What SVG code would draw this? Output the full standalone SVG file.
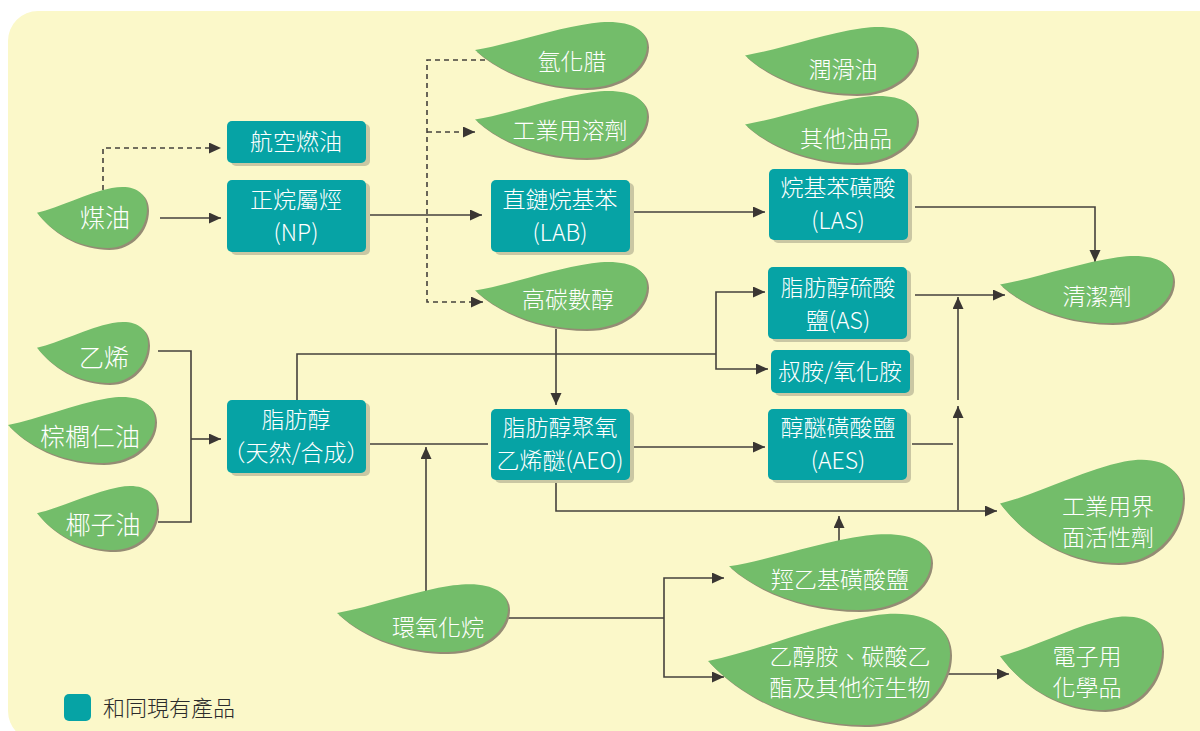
<svg xmlns="http://www.w3.org/2000/svg" xmlns:xlink="http://www.w3.org/1999/xlink" width="1200" height="731" viewBox="0 0 1200 731">
<style>
.bx{fill:#06a3a5}
.bs{fill:#cac7a3}
.lf{fill:#73bd6a}
.ls{fill:#948c74}
.t{font-family:"Noto Sans CJK TC","Noto Sans CJK SC",sans-serif;font-weight:300;fill:#ffffff;text-anchor:middle;font-size:23px}
.tl{font-size:25px}
.c{fill:none;stroke:#45413c;stroke-width:1.6}
.d{fill:none;stroke:#45413c;stroke-width:1.6;stroke-dasharray:5 4}
.lg{font-family:"Noto Sans CJK TC","Noto Sans CJK SC",sans-serif;font-weight:300;fill:#2b2b2b;font-size:22px}
</style>
<defs>
<path id="leaf" d="M0,26 C20,21 45,7 68,2 C88,-2 100,6 100,22 C100,42 85,60 64,60 C40,60 16,48 0,26 Z"/>
<marker id="ar" markerUnits="userSpaceOnUse" markerWidth="13" markerHeight="12" refX="12" refY="5.5" orient="auto" viewBox="0 0 13 12">
<path d="M0,0 L12,5.5 L0,11 Z" fill="#3a3633"/>
</marker>
</defs>
<rect x="8" y="11" width="1220" height="730" rx="30" fill="#fbf8c9"/>

<g id="connectors">
<path class="d" d="M103,190 V148 H221" marker-end="url(#ar)"/>
<path class="d" d="M485,60 H427 V302 H483" marker-end="url(#ar)"/>
<path class="d" d="M427,132 H475" marker-end="url(#ar)"/>
<path class="c" d="M160,218 H221" marker-end="url(#ar)"/>
<path class="c" d="M366,215 H482" marker-end="url(#ar)"/>
<path class="c" d="M632,212 H765" marker-end="url(#ar)"/>
<path class="c" d="M915,207 H1095 V262" marker-end="url(#ar)"/>
<path class="c" d="M915,295 H1005" marker-end="url(#ar)"/>
<path class="c" d="M958,510 V406" marker-end="url(#ar)"/>
<path class="c" d="M958,400 V297" marker-end="url(#ar)"/>
<path class="c" d="M912,444 H953"/>
<path class="c" d="M556,480 V511 H997" marker-end="url(#ar)"/>
<path class="c" d="M556,329 V405" marker-end="url(#ar)"/>
<path class="c" d="M297,400 V354 H716"/>
<path class="c" d="M716,330 V292 H765" marker-end="url(#ar)"/>
<path class="c" d="M716,330 V369 H768" marker-end="url(#ar)"/>
<path class="c" d="M158,351 H191 V522 H158"/>
<path class="c" d="M191,439 H221" marker-end="url(#ar)"/>
<path class="c" d="M368,444 H488"/>
<path class="c" d="M426,593 V447" marker-end="url(#ar)"/>
<path class="c" d="M633,447 H765" marker-end="url(#ar)"/>
<path class="c" d="M508,618 H664"/>
<path class="c" d="M664,618 V578 H724" marker-end="url(#ar)"/>
<path class="c" d="M664,618 V677 H724" marker-end="url(#ar)"/>
<path class="c" d="M839,542 V516" marker-end="url(#ar)"/>
<path class="c" d="M942,674 H1009" marker-end="url(#ar)"/>
</g>

<g id="n-jet">
<rect class="bs" x="231" y="124" width="139" height="42" rx="5"/>
<rect class="bx" x="227" y="121" width="139" height="42" rx="5"/>
<text class="t" x="296" y="150">航空燃油</text>
</g>
<g id="n-np">
<rect class="bs" x="231" y="183" width="139" height="72" rx="5"/>
<rect class="bx" x="227" y="180" width="139" height="72" rx="5"/>
<text class="t" x="296" y="208">正烷屬烴</text>
<text class="t" x="296" y="241">(NP)</text>
</g>
<g id="n-lab">
<rect class="bs" x="495" y="183" width="139" height="72" rx="5"/>
<rect class="bx" x="491" y="180" width="139" height="72" rx="5"/>
<text class="t" x="560" y="208">直鏈烷基苯</text>
<text class="t" x="560" y="241">(LAB)</text>
</g>
<g id="n-las">
<rect class="bs" x="773" y="172" width="139" height="71" rx="5"/>
<rect class="bx" x="769" y="169" width="139" height="71" rx="5"/>
<text class="t" x="838" y="196">烷基苯磺酸</text>
<text class="t" x="838" y="229">(LAS)</text>
</g>
<g id="n-as">
<rect class="bs" x="772" y="270" width="139" height="72" rx="5"/>
<rect class="bx" x="768" y="267" width="139" height="72" rx="5"/>
<text class="t" x="838" y="296">脂肪醇硫酸</text>
<text class="t" x="838" y="329">鹽(AS)</text>
</g>
<g id="n-amine">
<rect class="bs" x="775" y="353" width="139" height="43" rx="5"/>
<rect class="bx" x="771" y="350" width="139" height="43" rx="5"/>
<text class="t" x="840" y="380">叔胺/氧化胺</text>
</g>
<g id="n-aes">
<rect class="bs" x="772" y="412" width="139" height="71" rx="5"/>
<rect class="bx" x="768" y="409" width="139" height="71" rx="5"/>
<text class="t" x="838" y="436">醇醚磺酸鹽</text>
<text class="t" x="838" y="469">(AES)</text>
</g>
<g id="n-aeo">
<rect class="bs" x="495" y="412" width="139" height="71" rx="5"/>
<rect class="bx" x="491" y="409" width="139" height="71" rx="5"/>
<text class="t" x="560" y="436">脂肪醇聚氧</text>
<text class="t" x="560" y="469">乙烯醚(AEO)</text>
</g>
<g id="n-fa">
<rect class="bs" x="231" y="403" width="139" height="73" rx="5"/>
<rect class="bx" x="227" y="400" width="139" height="73" rx="5"/>
<text class="t" x="296" y="428">脂肪醇</text>
<text class="t" x="296" y="461">（天然/合成）</text>
</g>

<g id="l-kerosene">
<use href="#leaf" class="ls" transform="translate(39,188) scale(1.10,1.033)"/>
<use href="#leaf" class="lf" transform="translate(37,186) scale(1.10,1.033)"/>
<text class="t tl" x="105" y="227">煤油</text>
</g>
<g id="l-wax">
<use href="#leaf" class="ls" transform="translate(477,23) scale(1.72,1.117)"/>
<use href="#leaf" class="lf" transform="translate(475,21) scale(1.72,1.117)"/>
<text class="t" x="572" y="70">氫化腊</text>
</g>
<g id="l-solvent">
<use href="#leaf" class="ls" transform="translate(477,92) scale(1.72,1.133)"/>
<use href="#leaf" class="lf" transform="translate(475,90) scale(1.72,1.133)"/>
<text class="t" x="570" y="139">工業用溶劑</text>
</g>
<g id="l-lube">
<use href="#leaf" class="ls" transform="translate(747,28) scale(1.72,1.133)"/>
<use href="#leaf" class="lf" transform="translate(745,26) scale(1.72,1.133)"/>
<text class="t" x="843" y="78">潤滑油</text>
</g>
<g id="l-otheroil">
<use href="#leaf" class="ls" transform="translate(747,97) scale(1.72,1.133)"/>
<use href="#leaf" class="lf" transform="translate(745,95) scale(1.72,1.133)"/>
<text class="t" x="846" y="147">其他油品</text>
</g>
<g id="l-hca">
<use href="#leaf" class="ls" transform="translate(477,263) scale(1.72,1.133)"/>
<use href="#leaf" class="lf" transform="translate(475,261) scale(1.72,1.133)"/>
<text class="t" x="568" y="308">高碳數醇</text>
</g>
<g id="l-detergent">
<use href="#leaf" class="ls" transform="translate(1002,257) scale(1.73,1.133)"/>
<use href="#leaf" class="lf" transform="translate(1000,255) scale(1.73,1.133)"/>
<text class="t" x="1097" y="305">清潔劑</text>
</g>
<g id="l-ethylene">
<use href="#leaf" class="ls" transform="translate(39,323) scale(1.11,1.033)"/>
<use href="#leaf" class="lf" transform="translate(37,321) scale(1.11,1.033)"/>
<text class="t tl" x="104" y="367">乙烯</text>
</g>
<g id="l-palm">
<use href="#leaf" class="ls" transform="translate(10,398) scale(1.47,1.117)"/>
<use href="#leaf" class="lf" transform="translate(8,396) scale(1.47,1.117)"/>
<text class="t tl" x="90" y="446">棕櫚仁油</text>
</g>
<g id="l-coconut">
<use href="#leaf" class="ls" transform="translate(39,487) scale(1.20,1.083)"/>
<use href="#leaf" class="lf" transform="translate(37,485) scale(1.20,1.083)"/>
<text class="t tl" x="103" y="534">椰子油</text>
</g>
<g id="l-epoxide">
<use href="#leaf" class="ls" transform="translate(339,585) scale(1.71,1.15)"/>
<use href="#leaf" class="lf" transform="translate(337,583) scale(1.71,1.15)"/>
<text class="t" x="438" y="636">環氧化烷</text>
</g>
<g id="l-isethionate">
<use href="#leaf" class="ls" transform="translate(731,535) scale(2.02,1.283)"/>
<use href="#leaf" class="lf" transform="translate(729,533) scale(2.02,1.283)"/>
<text class="t" x="840" y="588">羥乙基磺酸鹽</text>
</g>
<g id="l-ethanolamine">
<use href="#leaf" class="ls" transform="translate(710,614) scale(2.42,1.883)"/>
<use href="#leaf" class="lf" transform="translate(708,612) scale(2.42,1.883)"/>
<text class="t" x="850" y="665">乙醇胺、碳酸乙</text>
<text class="t" x="850" y="696">酯及其他衍生物</text>
</g>
<g id="l-surfactant">
<use href="#leaf" class="ls" transform="translate(1002,460) scale(1.83,1.75)"/>
<use href="#leaf" class="lf" transform="translate(1000,458) scale(1.83,1.75)"/>
<text class="t" x="1108" y="515">工業用界</text>
<text class="t" x="1108" y="546">面活性劑</text>
</g>
<g id="l-electronic">
<use href="#leaf" class="ls" transform="translate(1002,617) scale(1.62,1.583)"/>
<use href="#leaf" class="lf" transform="translate(1000,615) scale(1.62,1.583)"/>
<text class="t" x="1087" y="665">電子用</text>
<text class="t" x="1087" y="696">化學品</text>
</g>

<g id="legend">
<rect x="64" y="694" width="27" height="27" rx="5" fill="#06a3a5"/>
<text class="lg" x="103" y="716">和同現有產品</text>
</g>
</svg>
